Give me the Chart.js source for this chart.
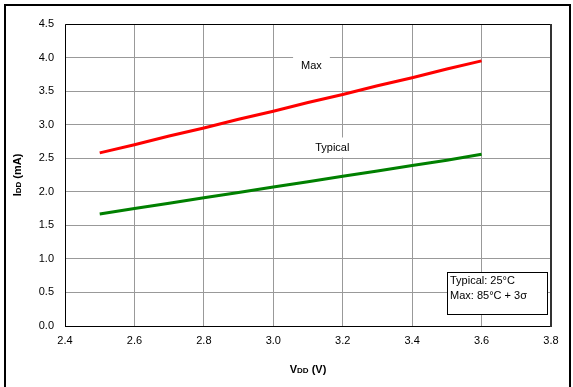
<!DOCTYPE html>
<html>
<head>
<meta charset="utf-8">
<script src="https://cdn.jsdelivr.net/npm/chart.js@4/dist/chart.umd.min.js"></script>
<style>
  html, body { margin: 0; padding: 0; background: #fff; }
  #wrap { width: 573px; height: 387px; position: relative; }
</style>
</head>
<body>
<div id="wrap"><canvas id="chart"></canvas></div>
<script>
// data
const vdd = [2.5, 2.6, 2.7, 2.8, 2.9, 3.0, 3.1, 3.2, 3.3, 3.4, 3.5, 3.6];
const iddMax = [2.58, 2.70, 2.83, 2.95, 3.08, 3.20, 3.33, 3.45, 3.58, 3.70, 3.83, 3.95];
const iddTypical = [1.67, 1.75, 1.83, 1.91, 1.99, 2.07, 2.15, 2.23, 2.31, 2.39, 2.47, 2.56];
const xTicks = [2.4, 2.6, 2.8, 3.0, 3.2, 3.4, 3.6, 3.8];
const yTicks = [0, 0.5, 1, 1.5, 2, 2.5, 3, 3.5, 4, 4.5];
const curveLabels = [
    { text: 'Max', x: 3.11, y: 3.87 },
    { text: 'Typical', x: 3.17, y: 2.66 }
];
const noteLines = ['Typical: 25°C', 'Max: 85°C + 3σ'];

const FONT = '"Liberation Sans", Arial, sans-serif';

function toPoints(xs, ys) {
    return xs.map((x, i) => ({ x: x, y: ys[i] }));
}

// text with a smaller "DD" part, like Idd / Vdd
function drawSubText(ctx, parts, x, y) {
    let total = 0;
    parts.forEach(p => {
        ctx.font = p.font;
        total += ctx.measureText(p.t).width;
    });
    let cx = x - total / 2;
    ctx.textAlign = 'left';
    parts.forEach(p => {
        ctx.font = p.font;
        ctx.fillText(p.t, cx, y + (p.dy || 0));
        cx += ctx.measureText(p.t).width;
    });
}

const extras = {
    id: 'extras',
    beforeDatasetsDraw(chart) {
        const ctx = chart.ctx;
        const xs = chart.scales.x, ys = chart.scales.y;
        ctx.save();
        ctx.font = '11px ' + FONT;
        ctx.textBaseline = 'middle';
        curveLabels.forEach(l => {
            const px = xs.getPixelForValue(l.x);
            const py = ys.getPixelForValue(l.y);
            const w = ctx.measureText(l.text).width;
            ctx.fillStyle = '#fff';
            ctx.fillRect(px - w / 2 - 8, py - 10, w + 16, 20);
            ctx.fillStyle = '#000';
            ctx.textAlign = 'center';
            ctx.fillText(l.text, px, py);
        });
        ctx.restore();
    },
    afterDraw(chart) {
        const ctx = chart.ctx;
        const a = chart.chartArea;
        ctx.save();
        // plot frame
        ctx.strokeStyle = '#000';
        ctx.lineWidth = 1;
        ctx.beginPath();
        ctx.moveTo(a.left + 0.5, a.bottom + 0.5);
        ctx.lineTo(a.left + 0.5, a.top + 0.5);
        ctx.lineTo(a.right, a.top + 0.5);
        ctx.moveTo(a.left, a.bottom + 0.5);
        ctx.lineTo(a.right, a.bottom + 0.5);
        ctx.stroke();
        ctx.strokeStyle = '#333';
        ctx.lineWidth = 2;
        ctx.beginPath();
        ctx.moveTo(a.right, a.top);
        ctx.lineTo(a.right, a.bottom + 1);
        ctx.stroke();

        // note box
        const bx = 447, by = 272, bw = 100, bh = 42;
        ctx.fillStyle = '#fff';
        ctx.fillRect(bx, by, bw, bh);
        ctx.strokeStyle = '#000';
        ctx.lineWidth = 1;
        ctx.strokeRect(bx + 0.5, by + 0.5, bw, bh);
        ctx.fillStyle = '#000';
        ctx.font = '11px ' + FONT;
        ctx.textAlign = 'left';
        ctx.textBaseline = 'middle';
        ctx.fillText(noteLines[0], bx + 3, by + 9);
        ctx.fillText(noteLines[1], bx + 3, by + 24);

        // axis titles
        ctx.textBaseline = 'middle';
        drawSubText(ctx, [
            { t: 'V', font: 'bold 11px ' + FONT },
            { t: 'DD', font: 'bold 8px ' + FONT, dy: 1 },
            { t: ' (V)', font: 'bold 11px ' + FONT }
        ], (a.left + a.right) / 2, 370);
        ctx.save();
        ctx.translate(18, (a.top + a.bottom) / 2);
        ctx.rotate(-Math.PI / 2);
        drawSubText(ctx, [
            { t: 'I', font: 'bold 11px ' + FONT },
            { t: 'DD', font: 'bold 8px ' + FONT, dy: 1 },
            { t: ' (mA)', font: 'bold 11px ' + FONT }
        ], 0, 0);
        ctx.restore();

        // outer frame
        ctx.strokeStyle = '#000';
        ctx.lineWidth = 2;
        ctx.beginPath();
        ctx.moveTo(5, 387);
        ctx.lineTo(5, 5);
        ctx.lineTo(570, 5);
        ctx.lineTo(570, 387);
        ctx.stroke();
        ctx.restore();
    }
};

new Chart(document.getElementById('chart'), {
    type: 'scatter',
    data: {
        datasets: [
            {
                label: 'Max',
                data: toPoints(vdd, iddMax),
                showLine: true,
                borderColor: '#ff0000',
                borderWidth: 3,
                pointRadius: 0,
                tension: 0
            },
            {
                label: 'Typical',
                data: toPoints(vdd, iddTypical),
                showLine: true,
                borderColor: '#008000',
                borderWidth: 3,
                pointRadius: 0,
                tension: 0
            }
        ]
    },
    options: {
        responsive: true,
        maintainAspectRatio: false,
        animation: false,
        layout: { padding: { left: 0, top: 24, right: 22, bottom: 0 } },
        plugins: {
            legend: { display: false },
            tooltip: { enabled: false }
        },
        scales: {
            x: {
                type: 'linear',
                min: xTicks[0],
                max: xTicks[xTicks.length - 1],
                afterFit(scale) { scale.height = 61; },
                afterBuildTicks(scale) { scale.ticks = xTicks.map(v => ({ value: v })); },
                grid: { color: '#999', lineWidth: 1, drawTicks: false },
                border: { display: false },
                ticks: {
                    color: '#000',
                    padding: 8,
                    font: { family: FONT, size: 11 },
                    callback: v => v.toFixed(1)
                }
            },
            y: {
                min: 0,
                max: 4.5,
                afterFit(scale) { scale.width = 65; },
                afterBuildTicks(scale) { scale.ticks = yTicks.map(v => ({ value: v })); },
                grid: { color: '#999', lineWidth: 1, drawTicks: false },
                border: { display: false },
                ticks: {
                    color: '#000',
                    padding: 11,
                    font: { family: FONT, size: 11 },
                    callback: v => v.toFixed(1)
                }
            }
        }
    },
    plugins: [extras]
});
</script>
</body>
</html>
